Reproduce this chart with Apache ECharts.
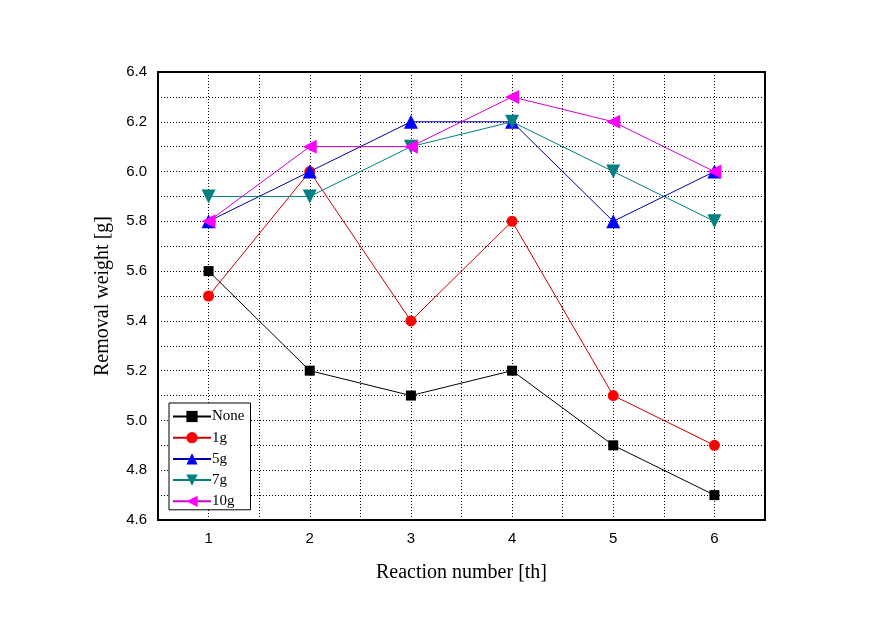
<!DOCTYPE html>
<html><head><meta charset="utf-8">
<script src="https://cdn.jsdelivr.net/npm/echarts@6/dist/echarts.min.js"></script>
<style>html,body{margin:0;padding:0;background:#fff}#c{width:887px;height:622px}</style>
</head><body><div id="c"></div>
<script>
const categories = [1, 2, 3, 4, 5, 6];
const seriesNames = ['None', '1g', '5g', '7g', '10g'];
const noneVals = [5.6, 5.2, 5.1, 5.2, 4.9, 4.7];
const g1Vals = [5.5, 6.0, 5.4, 5.8, 5.1, 4.9];
const g5Vals = [5.8, 6.0, 6.2, 6.2, 5.8, 6.0];
const g7Vals = [5.9, 5.9, 6.1, 6.2, 6.0, 5.8];
const g10Vals = [5.8, 6.1, 6.1, 6.3, 6.2, 6.0];
const yTicks = [4.6, 4.8, 5.0, 5.2, 5.4, 5.6, 5.8, 6.0, 6.2, 6.4];

const allVals = [noneVals, g1Vals, g5Vals, g7Vals, g10Vals];
const colors = ['#000000', '#ff0000', '#0000ff', '#008080', '#ff00ff'];
const lineColors = ['#000000', '#d00000', '#0000a8', '#008080', '#d000d0'];
const symbols = ['rect', 'circle', 'triangle', 'triangle', 'triangle'];
const sizes = [10, 11, 14, 14, 14];
const rotates = [0, 0, 0, 180, 90];

const chart = echarts.init(document.getElementById('c'));
chart.setOption({
  animation: false,
  backgroundColor: '#fff',
  grid: {left: 158, right: 122, top: 72, bottom: 102, show: true, borderColor: '#000', borderWidth: 2},
  legend: {
    orient: 'vertical', left: 169, top: 403,
    data: seriesNames.map((n, i) => ({name: n, itemStyle: {color: colors[i]}, lineStyle: {color: lineColors[i]}})),
    itemWidth: 38, itemHeight: 14, itemGap: 6.2,
    padding: [6, 6, 1, 3],
    borderColor: '#000', borderWidth: 1, backgroundColor: '#fff',
    textStyle: {fontFamily: 'Liberation Serif', fontSize: 15, lineHeight: 14, color: '#000', padding: [0, 0, 0, -4]}
  },
  xAxis: {
    type: 'value', min: 0.5, max: 6.5, interval: 0.5,
    name: 'Reaction number [th]', nameLocation: 'middle', nameGap: 43,
    nameTextStyle: {fontFamily: 'Liberation Serif', fontSize: 20, color: '#000'},
    axisLine: {show: true, lineStyle: {color: '#000', width: 2}},
    axisTick: {show: false},
    axisLabel: {fontFamily: 'Liberation Sans', fontSize: 15, color: '#000', margin: 11,
      formatter: v => (Math.abs(v - Math.round(v)) < 1e-6 && categories.includes(Math.round(v))) ? String(Math.round(v)) : ''},
    splitLine: {show: true, lineStyle: {color: '#000', type: [1, 2], width: 1}}
  },
  yAxis: {
    type: 'value', min: 4.6, max: 6.4, interval: 0.1,
    name: 'Removal weight [g]', nameLocation: 'middle', nameGap: 45,
    nameTextStyle: {fontFamily: 'Liberation Serif', fontSize: 20, color: '#000'},
    axisLine: {show: true, lineStyle: {color: '#000', width: 2}},
    axisTick: {show: false},
    axisLabel: {fontFamily: 'Liberation Sans', fontSize: 15, color: '#000', margin: 11,
      formatter: v => { const r = Math.round(v * 10) / 10; return yTicks.some(t => Math.abs(t - r) < 1e-6) ? r.toFixed(1) : ''; }},
    splitLine: {show: true, lineStyle: {color: '#000', type: [1, 2], width: 1}}
  },
  series: seriesNames.map((n, i) => ({
    name: n, type: 'line',
    data: categories.map((c, j) => [c, allVals[i][j]]),
    symbol: symbols[i], symbolSize: sizes[i], symbolRotate: rotates[i],
    showAllSymbol: true,
    lineStyle: {color: lineColors[i], width: 1},
    itemStyle: {color: colors[i]},
    z: 2 + i
  }))
});
</script></body></html>
